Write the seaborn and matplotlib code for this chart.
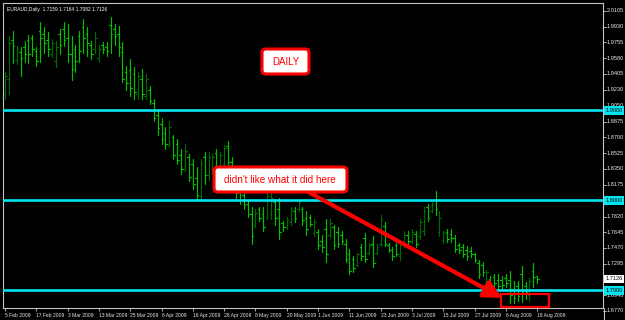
import matplotlib
matplotlib.use("Agg")
import matplotlib.pyplot as plt
from matplotlib.patches import FancyBboxPatch, Rectangle, FancyArrowPatch
from matplotlib.transforms import IdentityTransform
from matplotlib.lines import Line2D
import numpy as np
import pandas as pd
import seaborn as sns

# ---------------- data ----------------
chart_title = "EURAUD,Daily  1.7159 1.7164 1.7082 1.7126"
date_labels = ["5 Feb 2009", "17 Feb 2009", "3 Mar 2009", "13 Mar 2009", "25 Mar 2009",
               "6 Apr 2009", "16 Apr 2009", "28 Apr 2009", "8 May 2009", "20 May 2009",
               "1 Jun 2009", "11 Jun 2009", "23 Jun 2009", "3 Jul 2009", "15 Jul 2009",
               "27 Jul 2009", "6 Aug 2009", "18 Aug 2009"]
bars_per_label = 8

opens = [1.918, 1.935, 1.978, 1.956, 1.965, 1.970, 1.978, 1.980, 1.966, 1.988,
         1.985, 1.978, 1.963, 1.955, 1.985, 1.990, 1.980, 1.962, 1.968, 1.982,
         1.992, 1.985, 1.972, 1.968, 1.958, 1.972, 1.970, 1.995, 1.990, 1.985,
         1.965, 1.942, 1.945, 1.940, 1.918, 1.935, 1.916, 1.922, 1.908, 1.895,
         1.885, 1.875, 1.862, 1.870, 1.862, 1.850, 1.835, 1.848, 1.840, 1.825,
         1.805, 1.848, 1.828, 1.835, 1.852, 1.835, 1.840, 1.860, 1.842, 1.825,
         1.812, 1.806, 1.796, 1.785, 1.772, 1.790, 1.785, 1.782, 1.785, 1.798,
         1.790, 1.775, 1.770, 1.776, 1.788, 1.790, 1.790, 1.780, 1.782, 1.764,
         1.765, 1.755, 1.768, 1.762, 1.770, 1.765, 1.762, 1.752, 1.740, 1.735,
         1.728, 1.748, 1.758, 1.742, 1.752, 1.742, 1.752, 1.772, 1.750, 1.745,
         1.750, 1.738, 1.750, 1.762, 1.755, 1.763, 1.760, 1.766, 1.792, 1.788,
         1.800, 1.765, 1.756, 1.765, 1.763, 1.758, 1.750, 1.748, 1.745, 1.744,
         1.740, 1.730, 1.728, 1.708, 1.713, 1.715, 1.712, 1.712, 1.714, 1.712,
         1.702, 1.705, 1.718, 1.705, 1.695, 1.722, 1.7159]
highs = [1.943, 1.982, 1.988, 1.971, 1.970, 1.977, 1.984, 1.984, 1.970, 1.998,
         1.993, 1.987, 1.979, 1.977, 1.990, 1.998, 1.996, 1.982, 1.973, 1.988,
         2.001, 1.993, 1.977, 1.987, 1.973, 1.976, 1.976, 2.004, 1.996, 1.994,
         1.976, 1.949, 1.957, 1.948, 1.943, 1.946, 1.940, 1.927, 1.912, 1.899,
         1.892, 1.881, 1.888, 1.873, 1.868, 1.857, 1.862, 1.851, 1.846, 1.837,
         1.846, 1.854, 1.854, 1.851, 1.857, 1.854, 1.861, 1.866, 1.848, 1.832,
         1.823, 1.810, 1.801, 1.792, 1.790, 1.793, 1.792, 1.812, 1.809, 1.801,
         1.803, 1.777, 1.781, 1.793, 1.792, 1.801, 1.792, 1.788, 1.784, 1.779,
         1.768, 1.762, 1.779, 1.779, 1.773, 1.770, 1.766, 1.757, 1.746, 1.738,
         1.742, 1.751, 1.764, 1.753, 1.760, 1.751, 1.784, 1.776, 1.753, 1.748,
         1.753, 1.754, 1.766, 1.766, 1.768, 1.766, 1.779, 1.792, 1.796, 1.798,
         1.810, 1.788, 1.766, 1.768, 1.768, 1.762, 1.753, 1.751, 1.749, 1.748,
         1.742, 1.734, 1.731, 1.723, 1.716, 1.718, 1.718, 1.716, 1.718, 1.721,
         1.710, 1.710, 1.727, 1.709, 1.714, 1.730, 1.7164]
lows = [1.912, 1.918, 1.953, 1.951, 1.938, 1.954, 1.953, 1.960, 1.949, 1.954,
        1.964, 1.960, 1.959, 1.948, 1.962, 1.971, 1.954, 1.934, 1.943, 1.954,
        1.964, 1.960, 1.957, 1.964, 1.954, 1.964, 1.960, 1.964, 1.973, 1.960,
        1.931, 1.923, 1.916, 1.912, 1.912, 1.912, 1.912, 1.907, 1.888, 1.873,
        1.862, 1.857, 1.859, 1.846, 1.840, 1.829, 1.832, 1.821, 1.812, 1.801,
        1.801, 1.818, 1.823, 1.829, 1.832, 1.826, 1.834, 1.837, 1.812, 1.803,
        1.796, 1.790, 1.781, 1.751, 1.770, 1.777, 1.766, 1.779, 1.779, 1.773,
        1.757, 1.766, 1.768, 1.773, 1.776, 1.788, 1.773, 1.762, 1.771, 1.760,
        1.746, 1.743, 1.731, 1.759, 1.746, 1.748, 1.751, 1.731, 1.718, 1.720,
        1.727, 1.734, 1.731, 1.740, 1.726, 1.740, 1.749, 1.749, 1.743, 1.734,
        1.738, 1.734, 1.748, 1.751, 1.753, 1.748, 1.757, 1.762, 1.777, 1.787,
        1.784, 1.760, 1.753, 1.754, 1.754, 1.743, 1.742, 1.737, 1.734, 1.737,
        1.731, 1.714, 1.716, 1.704, 1.703, 1.704, 1.701, 1.701, 1.704, 1.686,
        1.686, 1.688, 1.687, 1.690, 1.688, 1.704, 1.7082]
closes = [1.938, 1.975, 1.971, 1.968, 1.958, 1.962, 1.962, 1.968, 1.955, 1.980,
          1.975, 1.968, 1.975, 1.970, 1.972, 1.978, 1.962, 1.946, 1.955, 1.966,
          1.980, 1.975, 1.962, 1.980, 1.968, 1.968, 1.966, 1.985, 1.982, 1.970,
          1.935, 1.930, 1.925, 1.920, 1.938, 1.918, 1.935, 1.910, 1.892, 1.880,
          1.868, 1.862, 1.882, 1.850, 1.845, 1.835, 1.855, 1.826, 1.818, 1.806,
          1.840, 1.828, 1.848, 1.848, 1.838, 1.850, 1.858, 1.842, 1.818, 1.808,
          1.800, 1.795, 1.785, 1.760, 1.786, 1.780, 1.770, 1.805, 1.802, 1.780,
          1.765, 1.770, 1.778, 1.790, 1.780, 1.798, 1.778, 1.768, 1.774, 1.776,
          1.750, 1.748, 1.740, 1.775, 1.750, 1.752, 1.755, 1.735, 1.722, 1.725,
          1.740, 1.738, 1.735, 1.750, 1.730, 1.748, 1.778, 1.752, 1.745, 1.738,
          1.740, 1.750, 1.762, 1.755, 1.765, 1.752, 1.776, 1.788, 1.780, 1.796,
          1.790, 1.780, 1.764, 1.757, 1.758, 1.746, 1.745, 1.740, 1.738, 1.740,
          1.734, 1.718, 1.720, 1.720, 1.706, 1.708, 1.705, 1.706, 1.708, 1.695,
          1.692, 1.694, 1.698, 1.698, 1.710, 1.715, 1.7126]

price_ticks = [2.0105, 1.9930, 1.9755, 1.9580, 1.9405, 1.9230, 1.9050, 1.8875,
               1.8700, 1.8525, 1.8350, 1.8175, 1.8000, 1.7820, 1.7645, 1.7470,
               1.7295, 1.7120, 1.6946, 1.6770]
levels = [1.9000, 1.8000, 1.7000]
last_price = 1.7126

# ---------------- style ----------------
sns.set_theme(style="dark", rc={"axes.facecolor": "black", "figure.facecolor": "black",
                                "savefig.facecolor": "black", "axes.grid": False})
plt.rcParams["font.family"] = ["Liberation Sans", "DejaVu Sans"]

W, H = 625, 320
fig = plt.figure(figsize=(W / 100, H / 100), dpi=100)
ax = fig.add_axes([3 / W, 1 - 308 / H, 600 / W, 305 / H])

BAR_UP = "#006a00"
BAR_DOWN = "#00c000"
FRAME = "#c4c4c4"
TXT = "#e8e8e8"
CYAN = "#00e6f0"

# build OHLC segments for seaborn
tick_len = 0.42
rec = []
for i, (o, h, l, c) in enumerate(zip(opens, highs, lows, closes)):
    d = "up" if c > o else "down"
    rec += [(3 * i, i, l, d), (3 * i, i, h, d),
            (3 * i + 1, i - tick_len, o, d), (3 * i + 1, i, o, d),
            (3 * i + 2, i, c, d), (3 * i + 2, i + tick_len, c, d)]
df = pd.DataFrame(rec, columns=["seg", "x", "y", "dir"])

sns.lineplot(data=df, x="x", y="y", units="seg", estimator=None, hue="dir",
             palette={"up": BAR_UP, "down": BAR_DOWN}, sort=False, legend=False,
             lw=0.85, ax=ax)

ax.set_xlim((3 - 5) / 3.914, (603 - 5) / 3.914)
ax.set_ylim(1.677 + (311 - 308) / 900, 1.677 + (311 - 3) / 900)
ax.set_xlabel("")
ax.set_ylabel("")

for lv in levels:
    ax.axhline(lv, color=CYAN, lw=1.9, zorder=4)

# x axis (time)
ax.set_xticks(np.arange(len(date_labels)) * bars_per_label)
ax.set_xticklabels(date_labels, fontsize=3.6, color=TXT, ha="left")
ax.tick_params(axis="x", direction="out", length=2.2, width=0.6, color=FRAME, pad=1.4,
               bottom=True)
ax.set_yticks([])

for s in ax.spines.values():
    s.set_visible(True)
    s.set_color(FRAME)
    s.set_linewidth(0.8)

# right price scale
ytr = ax.get_yaxis_transform()
for v in price_ticks:
    ax.plot([1, 1.005], [v, v], transform=ytr, color=FRAME, lw=0.6, clip_on=False)
    ax.annotate(f"{v:.4f}", xy=(1, v), xycoords=ytr, xytext=(2.4, 0),
                textcoords="offset points", ha="left", va="center", fontsize=4.1,
                color=TXT, annotation_clip=False)
for lv in levels:
    ax.annotate(f"{lv:.4f}", xy=(1, lv), xycoords=ytr, xytext=(1.6, 0),
                textcoords="offset points", ha="left", va="center", fontsize=4.1,
                color="black", annotation_clip=False, zorder=6,
                bbox=dict(boxstyle="square,pad=0.3", fc=CYAN, ec="none"))
ax.annotate(f"{last_price:.4f}", xy=(1, last_price), xycoords=ytr, xytext=(1.6, 0),
            textcoords="offset points", ha="left", va="center", fontsize=4.1,
            color="black", annotation_clip=False, zorder=6,
            bbox=dict(boxstyle="square,pad=0.3", fc="white", ec="none"))

fig.add_artist(Line2D([603.5, 603.5], [0, 12], transform=IdentityTransform(),
                      color=FRAME, lw=0.8))

ax.text(0.006, 0.988, chart_title, transform=ax.transAxes, fontsize=3.5, color="white",
        ha="left", va="top")

# annotations (pixel positions, y measured from top)
arrow = FancyArrowPatch(posA=(292, H - 183), posB=(502, H - 298),
                        arrowstyle="-|>,head_length=0.75,head_width=0.38",
                        mutation_scale=14, color="#ff0000", lw=3.0,
                        transform=IdentityTransform(), zorder=7, shrinkA=0, shrinkB=0)
fig.add_artist(arrow)

fig.add_artist(Rectangle((501, H - 307), 48, 13, transform=IdentityTransform(),
                         fill=False, ec="#ff0000", lw=1.6, zorder=7))

for (x0, y0, w, h) in [(262, 49, 47, 25), (214, 167, 133, 25)]:
    fig.add_artist(FancyBboxPatch((x0, H - y0 - h), w, h,
                                  boxstyle="round,pad=0,rounding_size=4",
                                  transform=IdentityTransform(), fc="white",
                                  ec="#ff0000", lw=2.2, zorder=8))

fig.text(285.5 / W, 1 - 62 / H, "DAILY", ha="center", va="center", color="#ff0000",
         fontsize=7.0, zorder=9)
fig.text(280 / W, 1 - 180 / H, "didn't like what it did here", ha="center", va="center",
         color="#ff0000", fontsize=7.2, zorder=9)

fig.savefig("out.png", dpi=100, facecolor="black")
